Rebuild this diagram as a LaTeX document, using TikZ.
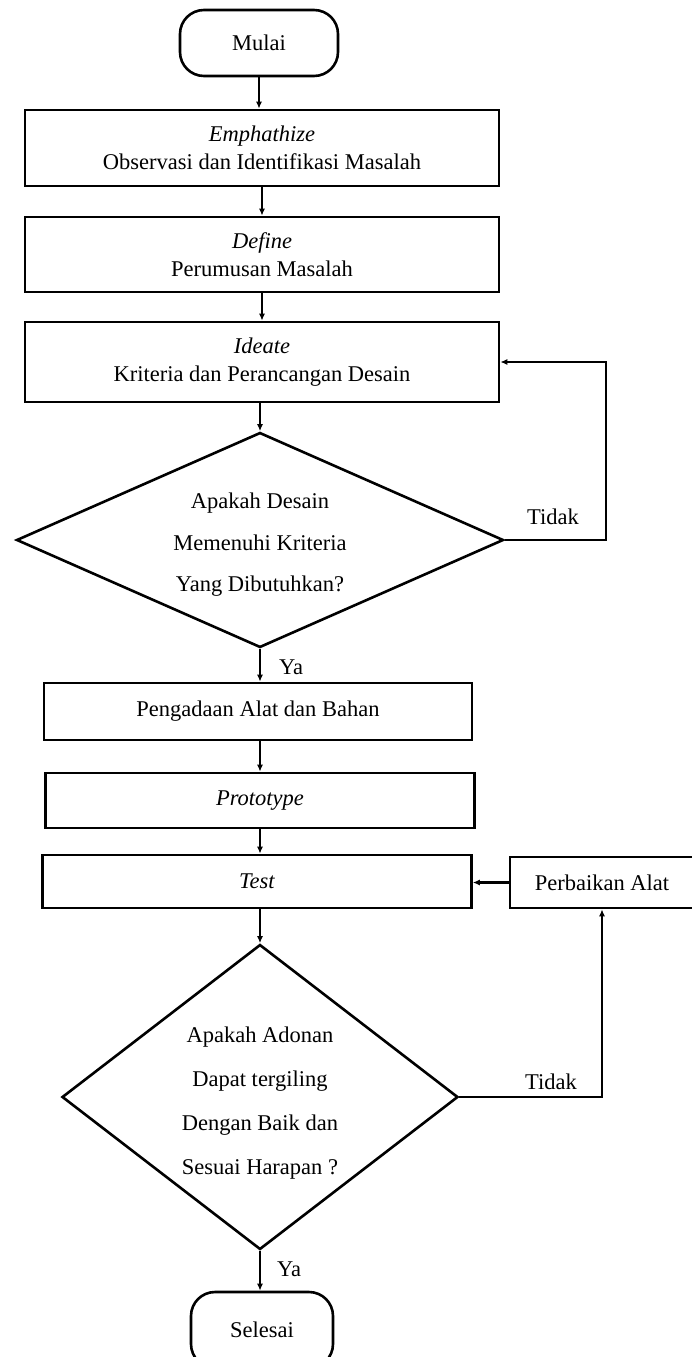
\documentclass[tikz,border=0pt]{standalone}
\usepackage{fontspec}
\setmainfont{Liberation Serif}
\usetikzlibrary{shapes.geometric,arrows.meta}
\newcommand\myfs{\fontsize{22.5}{28}\selectfont}
\begin{document}
\begin{tikzpicture}[x=1pt,y=-1pt,
  box/.style={draw, line width=2.6pt, inner sep=0pt, font=\myfs, align=center},
  term/.style={box, rounded corners=24pt},
  dec/.style={draw, diamond, line width=2.6pt, inner sep=0pt},
  dtext/.style={align=center, inner sep=0pt},
  lbl/.style={font=\myfs, inner sep=0pt},
  arr/.style={line width=2.4pt, -{Latex[length=7pt,width=6pt]}}]
\useasboundingbox[fill=white] (0,0) rectangle (691,1357);

\node[term, minimum width=158pt, minimum height=66pt] (mulai) at (259,43) {Mulai};
\node[box, minimum width=474pt, minimum height=76pt] (emph) at (262,148) {\textit{Emphathize}\\Observasi dan Identifikasi Masalah};
\node[box, minimum width=474pt, minimum height=75pt] (def) at (262,254.5) {\textit{Define}\\Perumusan Masalah};
\node[box, minimum width=474pt, minimum height=80pt] (ide) at (262,362) {\textit{Ideate}\\Kriteria dan Perancangan Desain};
\node[dec, minimum width=487pt, minimum height=215pt] (d1) at (260,540) {};
\node[dtext, font=\fontsize{22.5}{41.5}\selectfont] (d1t) at (260,545) {Apakah Desain\\Memenuhi Kriteria\\Yang Dibutuhkan?};
\node[box, minimum width=428pt, minimum height=57pt] (ada) at (258,711.5) {Pengadaan Alat dan Bahan};
\node[box, minimum width=429pt, minimum height=55pt] (pro) at (260,800.5) {\textit{Prototype}};
\node[box, minimum width=429pt, minimum height=53pt] (test) at (257,881.5) {\textit{Test}};
\node[box, minimum width=184pt, minimum height=51pt] (perb) at (602,882.5) {Perbaikan Alat};
\node[dec, minimum width=396pt, minimum height=305pt] (d2) at (260,1097) {};
\node[dtext, font=\fontsize{22.5}{44}\selectfont] (d2t) at (260,1103) {Apakah Adonan\\Dapat tergiling\\Dengan Baik dan\\Sesuai Harapan ?};
\node[term, minimum width=142pt, minimum height=76pt] (sel) at (262,1330) {Selesai};

\node[lbl] (tidak1) at (553,517) {Tidak};
\node[lbl] (ya1) at (291,667) {Ya};
\node[lbl] (tidak2) at (551,1082) {Tidak};
\node[lbl] (ya2) at (289,1269) {Ya};

\draw[arr] (mulai) -- (mulai |- emph.north);
\draw[arr] (emph.south) -- (emph.south |- def.north);
\draw[arr] (def.south) -- (def.south |- ide.north);
\draw[arr] (ide.south -| d1.north) -- (d1.north);
\draw[arr] (d1.east) -- ++(101,0) |- (ide.east);
\draw[arr] (d1.south) -- (d1.south |- ada.north);
\draw[arr] (ada.south -| pro.north) -- (pro.north);
\draw[arr] (pro.south) -- (pro.south |- test.north);
\draw[arr] (perb.west) -- (perb.west -| test.east);
\draw[arr] (test.south -| d2.north) -- (d2.north);
\draw[arr] (d2.east) -| (perb.south);
\draw[arr] (d2.south) -- (d2.south |- sel.north);
\end{tikzpicture}
\end{document}
